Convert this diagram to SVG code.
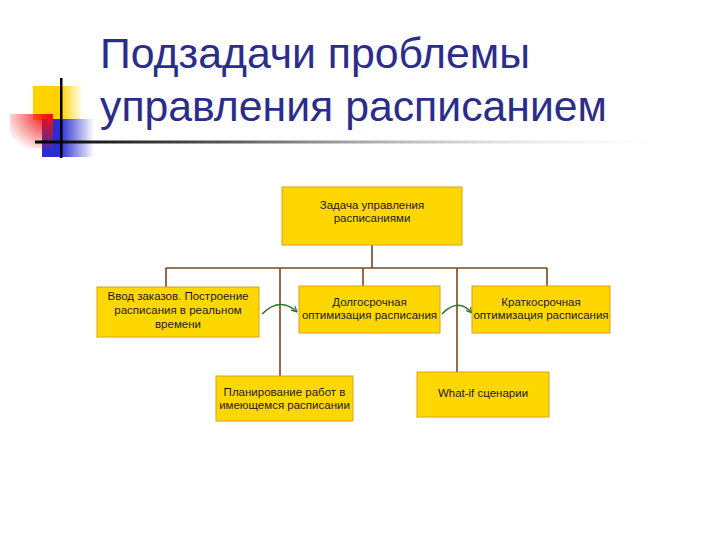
<svg xmlns="http://www.w3.org/2000/svg" width="720" height="540" viewBox="0 0 720 540">
<defs>
<style>
.title{font-family:"Liberation Sans",Arial,sans-serif;font-size:43px;fill:#2b2d8c}
.box{fill:#FFD700;stroke:#D9A21B;stroke-width:1}
.lbl{font-family:"Liberation Sans",Arial,sans-serif;font-size:11.5px;fill:#1a1a1a;text-anchor:middle}
.con{stroke:#7a4820;stroke-width:1.6;fill:none}
.arr{stroke:#2f7a25;stroke-width:1.6;fill:none;marker-end:url(#ah)}
</style>
<marker id="ah" viewBox="0 0 10 10" refX="9" refY="5" markerWidth="7" markerHeight="7" orient="auto" markerUnits="userSpaceOnUse">
<path d="M1,1 L9,5 L1,9" fill="none" stroke="#2f7a25" stroke-width="1.8"/>
</marker>
<linearGradient id="gy" x1="0" y1="0" x2="1" y2="0">
<stop offset="0.55" stop-color="#FFD200"/>
<stop offset="1" stop-color="#FFD200" stop-opacity="0"/>
</linearGradient>
<linearGradient id="gb" x1="0" y1="0" x2="1" y2="0">
<stop offset="0.35" stop-color="#2a2ed0"/>
<stop offset="1" stop-color="#2a2ed0" stop-opacity="0"/>
</linearGradient>
<radialGradient id="gr" cx="1" cy="0" r="1.2">
<stop offset="0.1" stop-color="#f01010"/>
<stop offset="1" stop-color="#f01010" stop-opacity="0"/>
</radialGradient>
<linearGradient id="gl" x1="0" y1="0" x2="1" y2="0">
<stop offset="0" stop-color="#000"/>
<stop offset="0.3" stop-color="#555"/>
<stop offset="1" stop-color="#ddd" stop-opacity="0"/>
</linearGradient>
</defs>
<rect width="720" height="540" fill="#fff"/>
<g id="decor">
<rect x="33" y="86" width="50" height="34" fill="url(#gy)"/>
<rect x="42" y="119" width="52" height="38" fill="url(#gb)"/>
<rect x="10" y="114" width="43" height="34" fill="url(#gr)"/>
<rect x="35" y="140.5" width="625" height="3" fill="url(#gl)"/>
<rect x="60" y="78" width="2.5" height="80" fill="#000"/>
</g>
<g id="title">
<text class="title" x="100" y="68" textLength="430" lengthAdjust="spacingAndGlyphs">Подзадачи проблемы</text>
<text class="title" x="100" y="121" textLength="507" lengthAdjust="spacingAndGlyphs">управления расписанием</text>
</g>
<g id="connectors">
<path class="con" d="M372,245 V268 M166,268 H547 M166,268 V287 M280,268 V376 M363,268 V286 M457,268 V372 M547,268 V286"/>
<path class="arr" d="M262,314 Q280,296 297,312"/>
<path class="arr" d="M442,314 Q458,297 472,313"/>
</g>
<g id="n-root">
<rect class="box" x="282" y="187" width="180" height="58"/>
<text class="lbl" x="372" y="209">Задача управления</text>
<text class="lbl" x="372" y="222">расписаниями</text>
</g>
<g id="n-orders">
<rect class="box" x="97" y="287" width="162" height="50"/>
<text class="lbl" x="178" y="300">Ввод заказов. Построение</text>
<text class="lbl" x="178" y="314">расписания в реальном</text>
<text class="lbl" x="178" y="328">времени</text>
</g>
<g id="n-long">
<rect class="box" x="299" y="286" width="141" height="47"/>
<text class="lbl" x="369.5" y="306">Долгосрочная</text>
<text class="lbl" x="369.5" y="319">оптимизация расписания</text>
</g>
<g id="n-short">
<rect class="box" x="472" y="286" width="138" height="47"/>
<text class="lbl" x="541" y="306">Краткосрочная</text>
<text class="lbl" x="541" y="319">оптимизация расписания</text>
</g>
<g id="n-plan">
<rect class="box" x="216" y="376" width="137" height="45"/>
<text class="lbl" x="284.5" y="396">Планирование работ в</text>
<text class="lbl" x="284.5" y="409">имеющемся расписании</text>
</g>
<g id="n-whatif">
<rect class="box" x="417" y="372" width="132" height="45"/>
<text class="lbl" x="483" y="397">What-if сценарии</text>
</g>
</svg>
